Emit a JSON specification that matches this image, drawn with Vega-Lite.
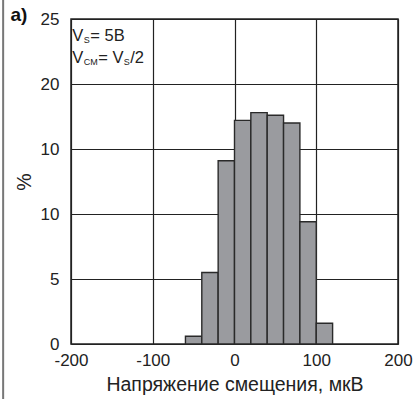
{
  "$schema": "https://vega.github.io/schema/vega-lite/v6.json",
  "width": 327,
  "height": 325,
  "autosize": {"type": "none"},
  "padding": {"left": 71, "top": 19, "right": 21, "bottom": 55},
  "background": "white",
  "datasets": {
    "bins": [
      {"start": -60, "end": -40, "pct": 0.6},
      {"start": -40, "end": -20, "pct": 5.5},
      {"start": -20, "end": 0, "pct": 14.1},
      {"start": 0, "end": 20, "pct": 17.2},
      {"start": 20, "end": 40, "pct": 17.8},
      {"start": 40, "end": 60, "pct": 17.6},
      {"start": 60, "end": 80, "pct": 17.0},
      {"start": 80, "end": 100, "pct": 9.4},
      {"start": 100, "end": 120, "pct": 1.6}
    ],
    "main": [
      {"x": -198.4, "y": 23.27, "t": "V"},
      {"x": -176.4, "y": 23.27, "t": "= 5В"},
      {"x": -198.4, "y": 21.62, "t": "V"},
      {"x": -166.6, "y": 21.62, "t": "= V"},
      {"x": -127.5, "y": 21.62, "t": "/2"}
    ],
    "sub": [
      {"x": -184.3, "y": 23.15, "t": "S"},
      {"x": -184.3, "y": 21.46, "t": "CM"},
      {"x": -135.4, "y": 21.46, "t": "S"}
    ],
    "label": [{"x": -274, "y": 24.85, "t": "a)"}],
    "border": [{"x": -283, "y": -4.3, "y2": 26.6}]
  },
  "layer": [
    {
      "data": {"name": "bins"},
      "mark": {"type": "bar", "fill": "#9a9b9f", "stroke": "#2a2a2a", "strokeWidth": 1.4},
      "encoding": {
        "x": {
          "field": "start", "type": "quantitative",
          "scale": {"domain": [-200, 200], "nice": false, "zero": false},
          "axis": {
            "values": [-200, -100, 0, 100, 200],
            "labelExpr": "'' + datum.value",
            "labelFlush": false,
            "title": "Напряжение смещения, мкВ",
            "titlePadding": 7
          }
        },
        "x2": {"field": "end"},
        "y": {
          "field": "pct", "type": "quantitative",
          "scale": {"domain": [0, 25], "nice": false},
          "axis": {
            "values": [0, 5, 10, 15, 20, 25],
            "labelExpr": "datum.value == 15 ? '10' : datum.label",
            "title": "%",
            "titlePadding": 6
          }
        },
        "y2": {"datum": 0}
      }
    },
    {
      "data": {"name": "main"},
      "mark": {"type": "text", "align": "left", "baseline": "alphabetic", "font": "Liberation Sans", "fontSize": 16.5, "color": "#222"},
      "encoding": {
        "x": {"field": "x", "type": "quantitative"},
        "y": {"field": "y", "type": "quantitative"},
        "text": {"field": "t"}
      }
    },
    {
      "data": {"name": "sub"},
      "mark": {"type": "text", "align": "left", "baseline": "alphabetic", "font": "Liberation Sans", "fontSize": 9, "color": "#222"},
      "encoding": {
        "x": {"field": "x", "type": "quantitative"},
        "y": {"field": "y", "type": "quantitative"},
        "text": {"field": "t"}
      }
    },
    {
      "data": {"name": "label"},
      "mark": {"type": "text", "align": "left", "baseline": "alphabetic", "font": "Liberation Sans", "fontSize": 19, "fontWeight": "bold", "color": "#111"},
      "encoding": {
        "x": {"field": "x", "type": "quantitative"},
        "y": {"field": "y", "type": "quantitative"},
        "text": {"field": "t"}
      }
    },
    {
      "data": {"name": "border"},
      "mark": {"type": "rule", "color": "#777", "strokeWidth": 2},
      "encoding": {
        "x": {"field": "x", "type": "quantitative"},
        "y": {"field": "y", "type": "quantitative"},
        "y2": {"field": "y2"}
      }
    }
  ],
  "config": {
    "view": {"stroke": "#222", "strokeWidth": 1.5},
    "axis": {
      "domain": false,
      "ticks": false,
      "grid": true,
      "gridColor": "#222",
      "gridOpacity": 1,
      "gridWidth": 1.2,
      "labelFont": "Liberation Sans",
      "labelFontSize": 17,
      "labelColor": "#222",
      "labelPadding": 12,
      "titleFont": "Liberation Sans",
      "titleFontSize": 19.5,
      "titleFontWeight": "normal",
      "titleColor": "#222"
    },
    "axisX": {"labelPadding": 8}
  }
}
